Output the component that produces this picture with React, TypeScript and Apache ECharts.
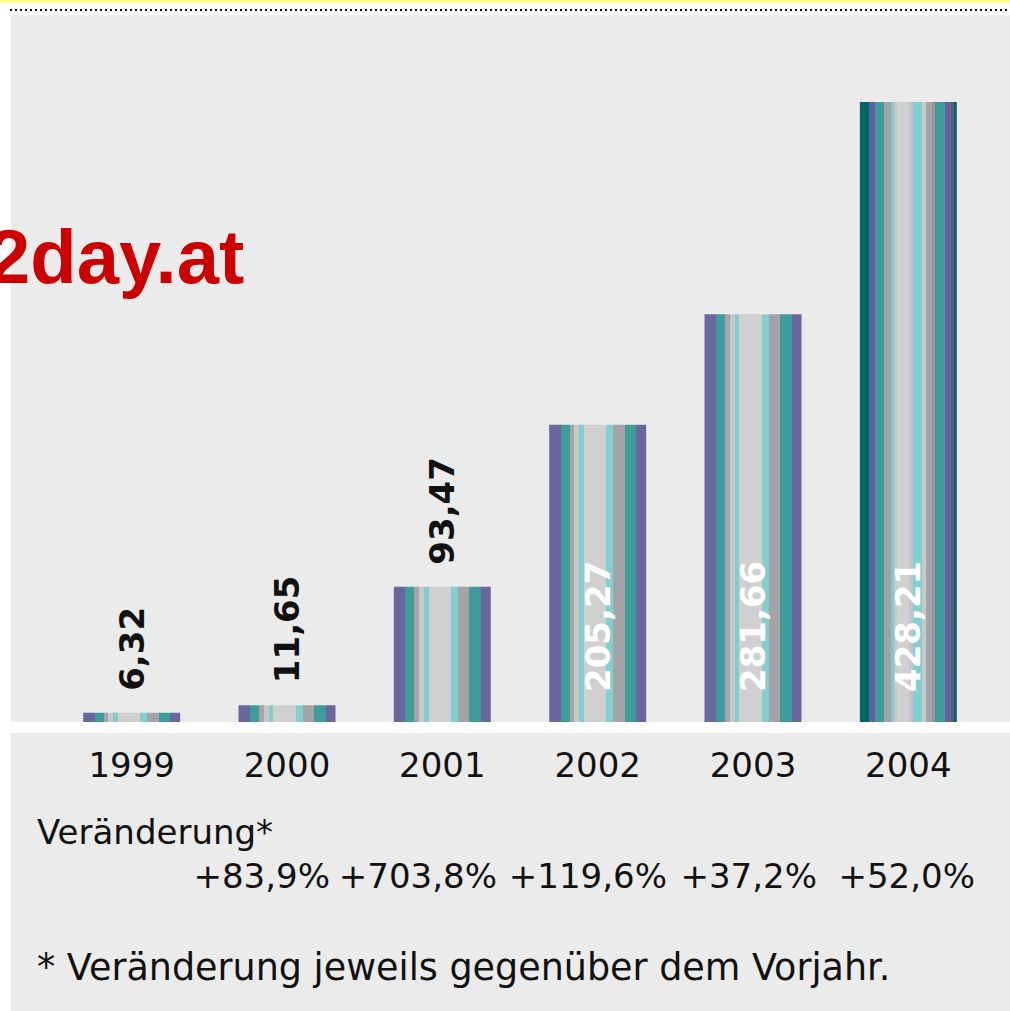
import React, { useEffect, useRef } from "react";
import * as echarts from "echarts";

const categories = ["1999", "2000", "2001", "2002", "2003", "2004"];
const values = [6.32, 11.65, 93.47, 205.27, 281.66, 428.21];
const changeLabels = ["+83,9%", "+703,8%", "+119,6%", "+37,2%", "+52,0%"];
const changeTitle = "Veränderung*";
const footnote = "* Veränderung jeweils gegenüber dem Vorjahr.";
const watermark = "2day.at";

// layout (right edges of the change labels)
const changeRight = [330, 497, 667, 817, 975];

// stripe patterns [width, colour]
const stripesA: [number, string][] = [
  [12, "#6a67a0"],
  [9, "#3e9c9a"],
  [5, "#a4a4aa"],
  [5, "#c8c8c8"],
  [5, "#7fcfcf"],
  [23, "#d0d0d0"],
  [7, "#80d0d0"],
  [12, "#a4a4a8"],
  [12, "#3e9c9a"],
  [10, "#6a67a0"],
];
const stripesB: [number, string][] = [
  [9, "#006666"],
  [6, "#6460a0"],
  [9, "#3e9c9a"],
  [7, "#a2a2a8"],
  [3, "#80cccc"],
  [3, "#c8c8c8"],
  [12, "#d0d0cc"],
  [4, "#c4c4cc"],
  [9, "#80d0d0"],
  [3, "#c8c8c8"],
  [6, "#a4a4a8"],
  [3, "#989898"],
  [10, "#3e9c9a"],
  [6, "#6460a0"],
  [3, "#5c5c70"],
  [3, "#006666"],
];

function stripeGradient(stripes: [number, string][]) {
  const total = stripes.reduce((s, x) => s + x[0], 0);
  const stops: { offset: number; color: string }[] = [];
  let acc = 0;
  stripes.forEach(([w, c]) => {
    stops.push({ offset: acc / total, color: c });
    acc += w;
    stops.push({ offset: Math.min(1, acc / total - 0.0001), color: c });
  });
  return new echarts.graphic.LinearGradient(0, 0, 1, 0, stops);
}

const fmt = (v: number) => v.toFixed(2).replace(".", ",");

export default function App() {
  const ref = useRef<HTMLDivElement>(null);
  useEffect(() => {
    if (!ref.current) return;
    const chart = echarts.init(ref.current, undefined, { renderer: "svg" });
    const maxV = Math.max(...values);
    const data = values.map((v, i) => {
      const inside = v > maxV * 0.4;
      return {
        value: v,
        itemStyle: { color: stripeGradient(i === values.length - 1 ? stripesB : stripesA) },
        label: inside
          ? {
              show: true,
              position: "insideBottom",
              distance: 30,
              rotate: 90,
              align: "left",
              verticalAlign: "middle",
              color: "#ffffff",
            }
          : {
              show: true,
              position: "top",
              distance: 22,
              rotate: 90,
              align: "left",
              verticalAlign: "middle",
              color: "#111111",
            },
      };
    });
    const textFont = '"DejaVu Sans", Verdana, sans-serif';
    chart.setOption({
      animation: false,
      backgroundColor: "#ffffff",
      grid: { left: 54, right: 24, top: 102, bottom: 289 },
      xAxis: {
        type: "category",
        data: categories,
        axisLine: { show: false },
        axisTick: { show: false },
        axisLabel: {
          color: "#111111",
          fontSize: 34,
          fontFamily: textFont,
          margin: 26,
        },
      },
      yAxis: {
        type: "value",
        min: 0,
        max: maxV,
        show: false,
        splitLine: { show: false },
      },
      series: [
        {
          type: "bar",
          data,
          barWidth: 97,
          label: {
            formatter: (p: any) => fmt(p.value),
            fontFamily: '"DejaVu Sans", Verdana, sans-serif',
            fontWeight: "bold",
            fontSize: 34,
          },
        },
      ],
      graphic: [
        {
          type: "rect",
          z: -100,
          shape: { x: 11, y: 15, width: 999, height: 996 },
          style: { fill: "#ebebeb" },
        },
        {
          type: "rect",
          shape: { x: 0, y: 0, width: 1010, height: 3 },
          style: { fill: "#ffff88" },
        },
        {
          type: "line",
          shape: { x1: 10, y1: 10, x2: 1010, y2: 10 },
          style: { stroke: "#000000", lineWidth: 2, lineDash: [2, 3] },
        },
        {
          type: "rect",
          shape: { x: 11, y: 722, width: 999, height: 11 },
          style: { fill: "#ffffff" },
        },
        {
          type: "text",
          x: -12,
          y: 256,
          style: {
            text: watermark,
            fill: "#cc0000",
            font: 'bold 76px "Liberation Sans", Arial, sans-serif',
            verticalAlign: "middle",
            align: "left",
          },
        },
        {
          type: "text",
          x: 37,
          y: 832,
          style: {
            text: changeTitle,
            fill: "#111111",
            font: '34px "DejaVu Sans", Verdana, sans-serif',
            verticalAlign: "middle",
          },
        },
        ...changeLabels.map((t, i) => ({
          type: "text",
          x: changeRight[i],
          y: 876,
          style: {
            text: t,
            fill: "#111111",
            font: '34px "DejaVu Sans", Verdana, sans-serif',
            verticalAlign: "middle",
            align: "right",
          },
        })),
        {
          type: "text",
          x: 37,
          y: 967,
          style: {
            text: footnote,
            fill: "#111111",
            font: '36.5px "DejaVu Sans", Verdana, sans-serif',
            verticalAlign: "middle",
          },
        },
      ],
    });
    return () => chart.dispose();
  }, []);
  return (
    <div
      ref={ref}
      style={{ position: "absolute", left: 0, top: 0, width: 1010, height: 1011 }}
    />
  );
}
